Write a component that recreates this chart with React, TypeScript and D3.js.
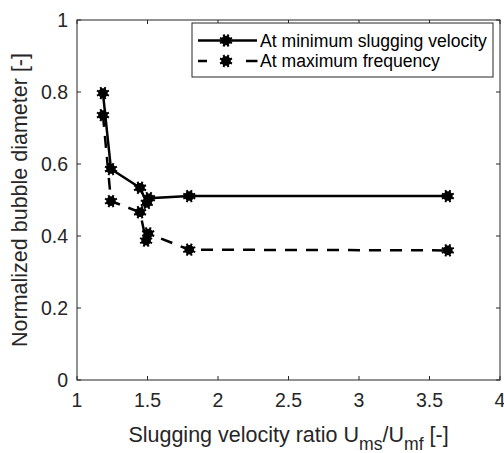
import React from "react";
import * as d3 from "d3";

const xTicks = [1, 1.5, 2, 2.5, 3, 3.5, 4];
const yTicks = [0, 0.2, 0.4, 0.6, 0.8, 1];
const minSlugX = [1.184, 1.241, 1.447, 1.495, 1.51, 1.796, 3.63];
const minSlugY = [0.797, 0.586, 0.534, 0.492, 0.505, 0.511, 0.511];
const maxFreqX = [1.184, 1.241, 1.447, 1.49, 1.505, 1.796, 3.63];
const maxFreqY = [0.736, 0.497, 0.466, 0.387, 0.407, 0.362, 0.36];
const seriesNames = ["At minimum slugging velocity", "At maximum frequency"];

const W = 504, H = 453;
const L = 77, R = 500, T = 20, B = 380;

function Star({ x, y }: { x: number; y: number }) {
  const r = 6.5;
  const spokes = d3.range(8).map((i) => (i * Math.PI) / 4 + Math.PI / 8);
  return (
    <g>
      <circle cx={x} cy={y} r={4.8} fill="#000" />
      {spokes.map((a, i) => (
        <line key={i} x1={x} y1={y} x2={x + r * Math.cos(a)} y2={y + r * Math.sin(a)} stroke="#000" strokeWidth={2} />
      ))}
    </g>
  );
}

export default function App() {
  const xs = d3.scaleLinear().domain([1, 4]).range([L, R]);
  const ys = d3.scaleLinear().domain([0, 1]).range([B, T]);
  const line = d3.line<[number, number]>().x((d) => xs(d[0])).y((d) => ys(d[1]));
  const s1: [number, number][] = minSlugX.map((x, i) => [x, minSlugY[i]]);
  const s2: [number, number][] = maxFreqX.map((x, i) => [x, maxFreqY[i]]);
  const font = "Liberation Sans, Arial, sans-serif";
  const axisColor = "#262626";
  return (
    <svg width={W} height={H} style={{ position: "absolute", left: 0, top: 0 }} fontFamily={font}>
      <rect x={0} y={0} width={W} height={H} fill="#fff" />
      <rect x={L} y={T} width={R - L} height={B - T} fill="none" stroke={axisColor} strokeWidth={1} />
      {xTicks.map((t) => (
        <g key={"x" + t}>
          <line x1={xs(t)} x2={xs(t)} y1={B} y2={B - 4} stroke={axisColor} />
          <line x1={xs(t)} x2={xs(t)} y1={T} y2={T + 4} stroke={axisColor} />
          <text x={xs(t)} y={B + 27} textAnchor="middle" fontSize={19.5} fill={axisColor}>{t}</text>
        </g>
      ))}
      {yTicks.map((t) => (
        <g key={"y" + t}>
          <line x1={L} x2={L + 4} y1={ys(t)} y2={ys(t)} stroke={axisColor} />
          <line x1={R} x2={R - 4} y1={ys(t)} y2={ys(t)} stroke={axisColor} />
          <text x={L - 9} y={ys(t) + 7} textAnchor="end" fontSize={19.5} fill={axisColor}>{t}</text>
        </g>
      ))}
      <path d={line(s1) || ""} fill="none" stroke="#000" strokeWidth={2.5} />
      <path d={line(s2) || ""} fill="none" stroke="#000" strokeWidth={2.5} strokeDasharray="12,9" />
      {s1.map((d, i) => <Star key={"a" + i} x={xs(d[0])} y={ys(d[1])} />)}
      {s2.map((d, i) => <Star key={"b" + i} x={xs(d[0])} y={ys(d[1])} />)}
      <text x={(L + R) / 2} y={442} textAnchor="middle" fontSize={21.5} fill={axisColor}>
        Slugging velocity ratio U<tspan fontSize={17.6} dy={8}>ms</tspan><tspan dy={-8}>/U</tspan><tspan fontSize={17.6} dy={8}>mf</tspan><tspan dy={-8}> [-]</tspan>
      </text>
      <text transform={`translate(27,${(T + B) / 2}) rotate(-90)`} textAnchor="middle" fontSize={21.5} fill={axisColor}>
        Normalized bubble diameter [-]
      </text>
      <rect x={192} y={23} width={301} height={54} fill="#fff" stroke={axisColor} strokeWidth={1} />
      <line x1={198} x2={257} y1={40.5} y2={40.5} stroke="#000" strokeWidth={2.5} />
      <Star x={226} y={40.5} />
      <line x1={198} x2={207} y1={61} y2={61} stroke="#000" strokeWidth={2.5} />
      <line x1={246} x2={257.5} y1={61} y2={61} stroke="#000" strokeWidth={2.5} />
      <Star x={226} y={61} />
      <text x={260} y={46.5} fontSize={17.6} fill="#000">{seriesNames[0]}</text>
      <text x={260} y={67} fontSize={17.6} fill="#000">{seriesNames[1]}</text>
    </svg>
  );
}
